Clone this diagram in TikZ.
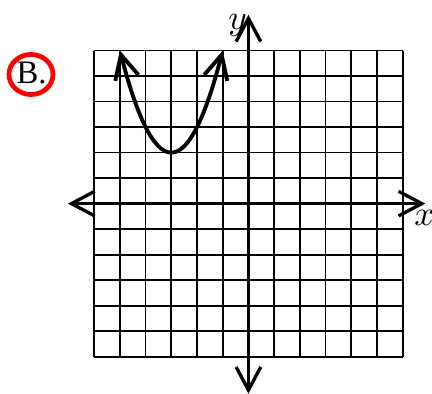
\documentclass[tikz,border=0pt]{standalone}
\usepackage{fontspec}
\newfontfamily\lblfont{Liberation Serif}
\usetikzlibrary{arrows.meta}
\tikzset{
  gridline/.style={line width=0.5pt, black},
  axisline/.style={line width=0.95pt, black, {Straight Barb[length=6.6pt, width=7pt]}-{Straight Barb[length=6.6pt, width=7pt]}},
  curveline/.style={line width=1.1pt, black, {Straight Barb[length=6.8pt, width=6.8pt]}-{Straight Barb[length=6.8pt, width=6.8pt]}},
  ringline/.style={line width=1.35pt, red},
  axlabel/.style={font=\fontsize{10}{12}\selectfont, inner sep=0pt}
}
\begin{document}
\begin{tikzpicture}[x=0.01cm,y=-0.01cm]
\useasboundingbox (0,0) rectangle (432,394);
% circled label
\node[inner sep=0pt, font=\lblfont\fontsize{9.3}{11}\selectfont] (lbl) at (31.5,73.5) {B.};
\draw[ringline] (31,74.5) ellipse [x radius=0.22cm, y radius=0.2cm];
\begin{scope}[shift={(2.483cm,-2.035cm)}, x=0.257cm, y=0.255cm]
  \foreach \i in {-6,...,6} {
    \draw[gridline] (\i,-6) -- (\i,6);
    \draw[gridline] (-6,\i) -- (6,\i);
  }
  \coordinate (xl) at (-7.02,0);
  \coordinate (xr) at (6.88,0);
  \coordinate (yt) at (0,7.4);
  \coordinate (yb) at (0,-7.45);
  \draw[axisline] (xl) -- (xr);
  \draw[axisline] (yb) -- (yt);
  \node[axlabel] (xlab) at (6.84,-0.55) {$x$};
  \node[axlabel] (ylab) at (-0.42,6.98) {$y$};
  \draw[curveline] plot[domain=-5:-1, samples=81] (\x,{(\x+3)^2+2});
\end{scope}
\end{tikzpicture}
\end{document}
